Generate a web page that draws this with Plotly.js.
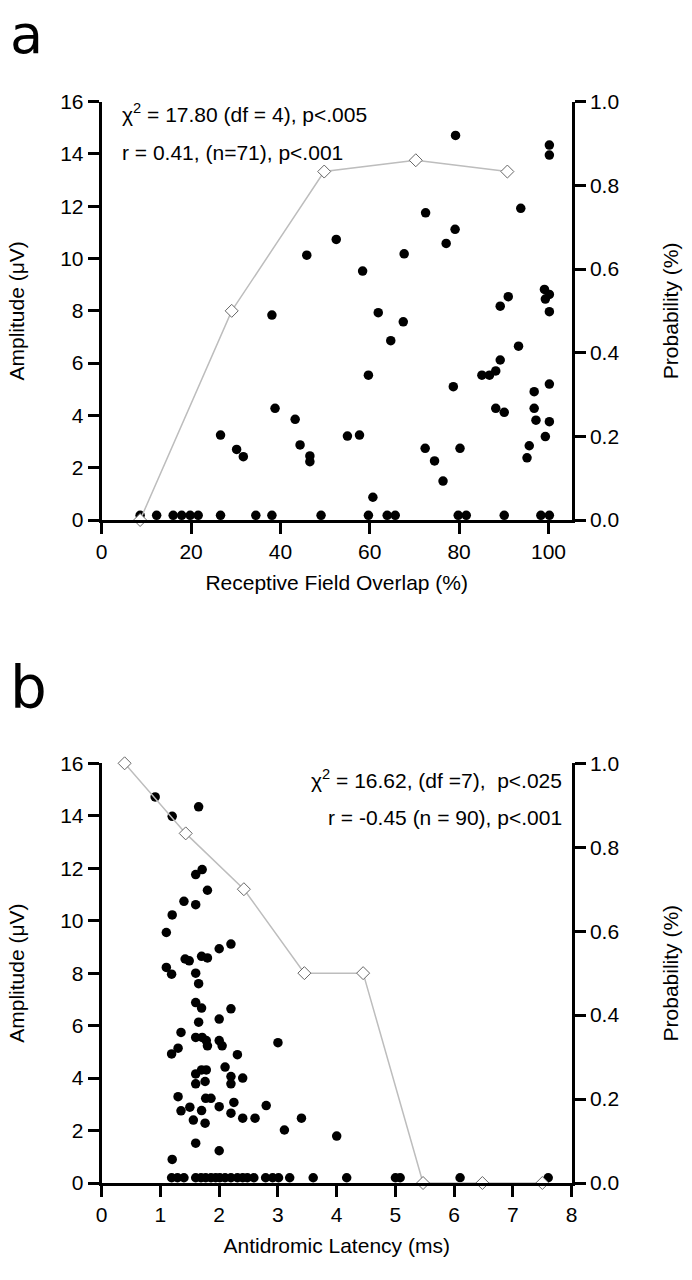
<!DOCTYPE html>
<html>
<head>
<meta charset="utf-8">
<script src="https://cdn.plot.ly/plotly-3.0.1.min.js"></script>
<style>html,body{margin:0;padding:0;background:#fff;}#chart{width:692px;height:1280px;}</style>
</head>
<body>
<div id="chart"></div>
<script>
// ---------- Panel a data ----------
const overlapPct = [8.6, 12.3, 16.0, 17.9, 19.8, 21.6, 26.6, 34.5, 38.1, 49.1, 59.7, 63.9, 65.7, 79.8, 81.6, 90.1, 98.3, 100.2,
  26.6, 30.2, 31.7, 38.1, 38.8, 43.3, 44.4, 46.6, 46.6, 45.9, 52.5, 55.0,
  57.7, 58.4, 59.7, 60.7, 61.9, 64.7, 67.5, 67.7, 72.5, 72.4, 74.5, 76.4, 77.1, 78.7, 79.1, 79.2, 80.2,
  85.1, 86.8, 88.2, 89.2, 88.2, 90.1, 89.2, 91.0, 93.3, 93.8, 95.2, 95.7, 96.8, 96.8, 97.2, 99.3, 99.1, 99.3,
  100.2, 100.2, 100.2, 100.2, 100.2, 100.2];
const amplitudeA = [0.18, 0.18, 0.18, 0.18, 0.18, 0.18, 0.18, 0.18, 0.18, 0.18, 0.18, 0.18, 0.18, 0.18, 0.18, 0.18, 0.18, 0.18,
  3.25, 2.70, 2.42, 7.84, 4.27, 3.85, 2.87, 2.45, 2.23, 10.13, 10.73, 3.21,
  3.25, 9.52, 5.54, 0.87, 7.93, 6.86, 7.58, 10.18, 11.75, 2.74, 2.26, 1.49, 10.58, 5.10, 11.12, 14.71, 2.74,
  5.54, 5.54, 5.70, 6.12, 4.27, 4.12, 8.18, 8.54, 6.65, 11.92, 2.38, 2.84, 4.91, 4.27, 3.82, 3.19, 8.82, 8.45,
  8.63, 7.97, 5.20, 3.76, 14.34, 13.96];
const overlapBins = [8.6, 29.1, 49.8, 70.3, 90.8];
const probabilityA = [0.0, 0.5, 0.833, 0.86, 0.833];

// ---------- Panel b data ----------
const latencyMs = [0.91, 1.65, 1.20, 1.71, 1.60, 1.80, 1.40, 1.60, 1.20, 1.10, 2.00, 2.20, 1.42, 1.49, 1.70, 1.80, 1.10, 1.19, 1.60, 1.65,
  1.60, 1.70, 2.20, 2.00, 1.65, 1.35, 1.60, 1.71, 1.78, 1.80, 2.00, 2.05, 1.30, 1.19, 2.10, 2.20, 1.78, 1.70, 1.60, 1.76,
  1.60, 1.30, 1.77, 1.86, 1.35, 1.50, 1.70, 2.00, 2.20, 1.56, 1.76, 1.60, 2.00, 1.20, 3.00, 2.31, 2.20, 2.40, 2.25, 2.80,
  2.40, 2.61, 3.40, 3.11, 4.00,
  1.19, 1.29, 1.40, 1.60, 1.69, 1.77, 1.86, 1.94, 2.01, 2.10, 2.20, 2.31, 2.40, 2.48, 2.59, 2.79, 2.91, 3.01, 3.20, 3.60, 4.17,
  5.00, 5.08, 6.10, 7.60];
const amplitudeB = [14.72, 14.34, 13.98, 11.95, 11.76, 11.16, 10.74, 10.61, 10.22, 9.55, 8.93, 9.11, 8.54, 8.47, 8.64, 8.58, 8.22, 7.96, 8.00, 7.60,
  6.88, 6.67, 6.64, 6.25, 6.13, 5.74, 5.55, 5.55, 5.43, 5.23, 5.43, 5.23, 5.14, 4.92, 4.42, 4.06, 4.31, 4.31, 4.16, 3.87,
  3.78, 3.29, 3.23, 3.23, 2.75, 2.89, 2.76, 2.91, 2.66, 2.40, 2.28, 1.52, 1.23, 0.90, 5.35, 4.89, 3.78, 4.00, 3.07, 2.95,
  2.47, 2.47, 2.47, 2.02, 1.79,
  0.2, 0.2, 0.2, 0.2, 0.2, 0.2, 0.2, 0.2, 0.2, 0.2, 0.2, 0.2, 0.2, 0.2, 0.2, 0.2, 0.2, 0.2, 0.2, 0.2, 0.2,
  0.2, 0.2, 0.2, 0.2];
const latencyBins = [0.39, 1.43, 2.42, 3.45, 4.45, 5.47, 6.48, 7.50];
const probabilityB = [1.0, 0.833, 0.70, 0.5, 0.5, 0.0, 0.0, 0.0];

const leftTicks = [0, 2, 4, 6, 8, 10, 12, 14, 16];
const rightTicks = [0, 0.2, 0.4, 0.6, 0.8, 1.0];

// ---------- layout helpers ----------
const W = 692, H = 1280;
const px = v => v / W;
const py = v => 1 - v / H;
const FONT = 'Liberation Sans, Arial, sans-serif';

const dotMarker = {color: '#000', size: 9.5, symbol: 'circle'};
const diamondMarker = {color: '#fff', size: 10, symbol: 'diamond', line: {color: '#666', width: 1}};
const probLine = {color: '#bdbdbd', width: 1.5};

const traces = [
  {x: overlapPct, y: amplitudeA, type: 'scatter', mode: 'markers', marker: dotMarker, xaxis: 'x', yaxis: 'y', cliponaxis: false},
  {x: overlapBins, y: probabilityA, type: 'scatter', mode: 'lines+markers', line: probLine, marker: diamondMarker, xaxis: 'x', yaxis: 'y2', cliponaxis: false},
  {x: latencyMs, y: amplitudeB, type: 'scatter', mode: 'markers', marker: dotMarker, xaxis: 'x2', yaxis: 'y3', cliponaxis: false},
  {x: latencyBins, y: probabilityB, type: 'scatter', mode: 'lines+markers', line: probLine, marker: diamondMarker, xaxis: 'x2', yaxis: 'y4', cliponaxis: false}
];

const axisCommon = {
  showline: true, linecolor: '#000', linewidth: 3,
  ticks: 'outside', ticklen: 11, tickwidth: 3, tickcolor: '#000',
  showgrid: false, zeroline: false,
  tickfont: {family: FONT, size: 21, color: '#000'}
};
const titleFont = {family: FONT, size: 21, color: '#000'};

const domX = [px(101.7), px(571.7)];
const domYA = [py(520), py(101.7)];
const domYB = [py(1183), py(763.3)];

const layout = {
  width: W, height: H,
  margin: {l: 0, r: 0, t: 0, b: 0},
  paper_bgcolor: '#fff', plot_bgcolor: 'rgba(0,0,0,0)',
  showlegend: false,
  font: {family: FONT, color: '#000'},
  xaxis: Object.assign({}, axisCommon, {domain: domX, range: [0, 105.2], tickvals: [0, 20, 40, 60, 80, 100], anchor: 'y',
    title: {text: 'Receptive Field Overlap (%)', font: titleFont, standoff: 14}}),
  yaxis: Object.assign({}, axisCommon, {domain: domYA, range: [0, 16], tickvals: leftTicks, anchor: 'x',
    title: {text: 'Amplitude (μV)', font: titleFont, standoff: 30}}),
  yaxis2: Object.assign({}, axisCommon, {domain: domYA, range: [0, 1], tickvals: rightTicks, tickformat: '.1f', overlaying: 'y', side: 'right', anchor: 'x',
    title: {text: 'Probability (%)', font: titleFont, standoff: 45}}),
  xaxis2: Object.assign({}, axisCommon, {domain: domX, range: [0, 8], tickvals: [0, 1, 2, 3, 4, 5, 6, 7, 8], anchor: 'y3',
    title: {text: 'Antidromic Latency (ms)', font: titleFont, standoff: 14}}),
  yaxis3: Object.assign({}, axisCommon, {domain: domYB, range: [0, 16], tickvals: leftTicks, anchor: 'x2',
    title: {text: 'Amplitude (μV)', font: titleFont, standoff: 30}}),
  yaxis4: Object.assign({}, axisCommon, {domain: domYB, range: [0, 1], tickvals: rightTicks, tickformat: '.1f', overlaying: 'y3', side: 'right', anchor: 'x2',
    title: {text: 'Probability (%)', font: titleFont, standoff: 45}}),
  annotations: [
    {text: 'a', xref: 'paper', yref: 'paper', x: px(8), y: py(1), xanchor: 'left', yanchor: 'top', showarrow: false,
      font: {family: 'DejaVu Sans, sans-serif', size: 54, color: '#000'}},
    {text: 'b', xref: 'paper', yref: 'paper', x: px(8), y: py(688), xanchor: 'left', yanchor: 'middle', showarrow: false,
      font: {family: 'DejaVu Sans, sans-serif', size: 58, color: '#000'}},
    {text: 'χ<sup>2</sup> = 17.80 (df = 4), p<.005', xref: 'paper', yref: 'paper', x: px(120), y: py(113), xanchor: 'left', yanchor: 'middle', showarrow: false,
      font: {family: FONT, size: 21, color: '#000'}},
    {text: 'r = 0.41, (n=71), p<.001', xref: 'paper', yref: 'paper', x: px(120), y: py(152), xanchor: 'left', yanchor: 'middle', showarrow: false,
      font: {family: FONT, size: 21, color: '#000'}},
    {text: 'χ<sup>2</sup> = 16.62, (df =7),  p<.025', xref: 'paper', yref: 'paper', x: px(564), y: py(779), xanchor: 'right', yanchor: 'middle', showarrow: false,
      font: {family: FONT, size: 21, color: '#000'}},
    {text: 'r = -0.45 (n = 90), p<.001', xref: 'paper', yref: 'paper', x: px(564), y: py(817), xanchor: 'right', yanchor: 'middle', showarrow: false,
      font: {family: FONT, size: 21, color: '#000'}}
  ]
};

Plotly.newPlot('chart', traces, layout, {displayModeBar: false, staticPlot: true});
</script>
</body>
</html>
